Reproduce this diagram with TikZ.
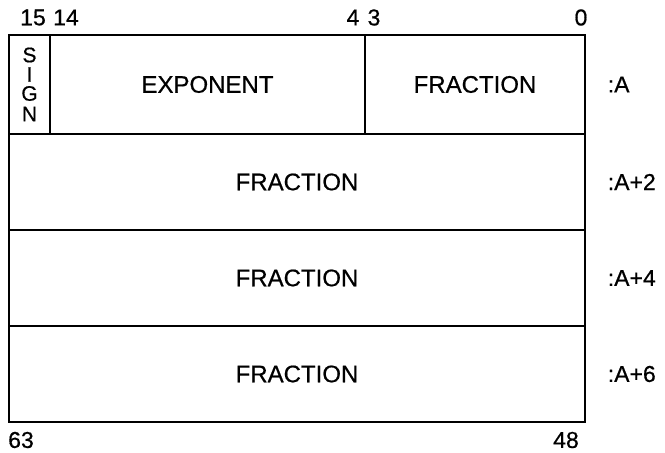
\documentclass[tikz,border=0pt]{standalone}
\usepackage{fontspec}
\setmainfont[FakeBold=0.6]{Liberation Sans}
\begin{document}
\begin{tikzpicture}[x=1pt, y=-1pt, line width=1.6pt,
    cell/.style={draw, rectangle, inner sep=0pt, outer sep=0pt},
    letter/.style={font=\fontsize{21}{21}\selectfont, inner sep=0pt},
    bit/.style={font=\fontsize{23}{23}\selectfont, inner sep=0pt},
    word/.style={font=\fontsize{23}{23}\selectfont, inner sep=0pt, anchor=west}]
    \useasboundingbox (0,0) rectangle (665,453);

    % first word: sign, exponent and high fraction
    \node[cell, minimum width=41, minimum height=99] (sign) at (29.5,84.5) {};
    \node[letter] (sgS) at (29.5,55) {S};
    \node[letter] (sgI) at (29.5,74.5) {I};
    \node[letter] (sgG) at (29.5,93.5) {G};
    \node[letter] (sgN) at (29.5,114) {N};
    \node[cell, minimum width=315, minimum height=99] (expo) at (207.5,84.5)
        {\fontsize{24}{24}\selectfont EXPONENT};
    \node[cell, minimum width=220, minimum height=99] (frac0) at (475,84.5)
        {\fontsize{24}{24}\selectfont FRACTION};

    % the other three words
    \node[cell, minimum width=576, minimum height=96] (frac2) at (297,182)
        {\fontsize{24}{24}\selectfont FRACTION};
    \node[cell, minimum width=576, minimum height=96] (frac4) at (297,278)
        {\fontsize{24}{24}\selectfont FRACTION};
    \node[cell, minimum width=576, minimum height=96] (frac6) at (297,374)
        {\fontsize{24}{24}\selectfont FRACTION};

    % bit numbers
    \node[bit] (b15) at (33,17.5) {15};
    \node[bit] (b14) at (66,17.5) {14};
    \node[bit] (b4) at (353,17.5) {4};
    \node[bit] (b3) at (374,17.5) {3};
    \node[bit] (b0) at (581,17.5) {0};
    \node[bit] (b63) at (21,440) {63};
    \node[bit] (b48) at (566,440) {48};

    % addresses
    \node[word] (wa) at (607,84.5) {:A};
    \node[word] (wa2) at (607,182) {:A+2};
    \node[word] (wa4) at (607,278) {:A+4};
    \node[word] (wa6) at (607,374) {:A+6};
\end{tikzpicture}
\end{document}
